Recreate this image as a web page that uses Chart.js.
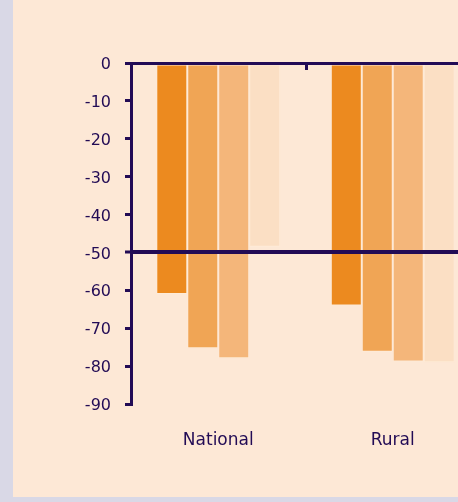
<!DOCTYPE html>
<html><head><meta charset="utf-8">
<script src="https://cdn.jsdelivr.net/npm/chart.js@4/dist/chart.umd.min.js"></script>
<style>
html,body{margin:0;padding:0;background:#d9d8e6;width:458px;height:502px;overflow:hidden;}
#wrap{position:absolute;left:13px;top:0;width:445px;height:497px;background:#fde8d6;overflow:hidden;}
#c{position:absolute;left:0;top:0;}
</style></head>
<body><div id="wrap"><canvas id="c" width="480" height="497" style="width:480px;height:497px"></canvas></div>
<script>
const categories = ["National", "Rural"];
const series1 = [-61, -64];
const series2 = [-75.3, -76.2];
const series3 = [-77.9, -78.8];
const series4 = [-48.5, -79];
const seriesNames = ["Series 1", "Series 2", "Series 3", "Series 4"];
const seriesColors = ["#ec8a1f", "#f0a555", "#f4b67a", "#fbdfc4"];
const yMin = -90, yMax = 0, yStep = 10;
const refLine = -50;

const ink = "#220b55";
const dividerTick = {
  id: "dividerTick",
  afterDraw(chart) {
    const x = chart.scales.x, ctx = chart.ctx, top = chart.chartArea.top;
    ctx.save();
    ctx.strokeStyle = ink; ctx.lineWidth = 3;
    for (let i = 0; i < categories.length - 1; i++) {
      const px = Math.round((x.getPixelForValue(i) + x.getPixelForValue(i + 1)) / 2) + 0.5;
      ctx.beginPath(); ctx.moveTo(px, top); ctx.lineTo(px, top + 7); ctx.stroke();
    }
    ctx.restore();
  }
};

new Chart(document.getElementById("c"), {
  type: "bar",
  data: {
    labels: categories,
    datasets: [series1, series2, series3, series4].map((d, i) => ({
      label: seriesNames[i], data: d, backgroundColor: seriesColors[i],
      borderColor: "rgba(255,236,215,0.6)", borderWidth: 1, borderSkipped: false,
      categoryPercentage: 0.71, barPercentage: 1.0
    }))
  },
  options: {
    responsive: false, animation: false,
    layout: { padding: { top: 63, right: 13, left: 0, bottom: 0 } },
    plugins: { legend: { display: false }, tooltip: { enabled: false } },
    scales: {
      x: {
        grid: { display: false }, border: { display: false },
        ticks: { color: ink, font: { family: "DejaVu Sans", size: 17 }, padding: 18 },
        afterFit(s) { s.height = 93; }
      },
      y: {
        min: yMin, max: yMax,
        ticks: { stepSize: yStep, color: ink, font: { family: "DejaVu Sans", size: 16 }, padding: 14, labelOffset: 2, z: 1 },
        border: { display: true, color: ink, width: 3, z: 1 },
        grid: {
          drawOnChartArea: true, drawTicks: true, tickLength: 6,
          color: (c) => (c.tick && (c.tick.value === 0 || c.tick.value === refLine)) ? ink : "rgba(0,0,0,0)",
          lineWidth: (c) => (c.tick && c.tick.value === refLine) ? 4 : 3,
          tickColor: ink, tickWidth: 3, z: 1
        },
        afterFit(s) { s.width = 118; }
      }
    }
  },
  plugins: [dividerTick]
});
</script></body></html>
